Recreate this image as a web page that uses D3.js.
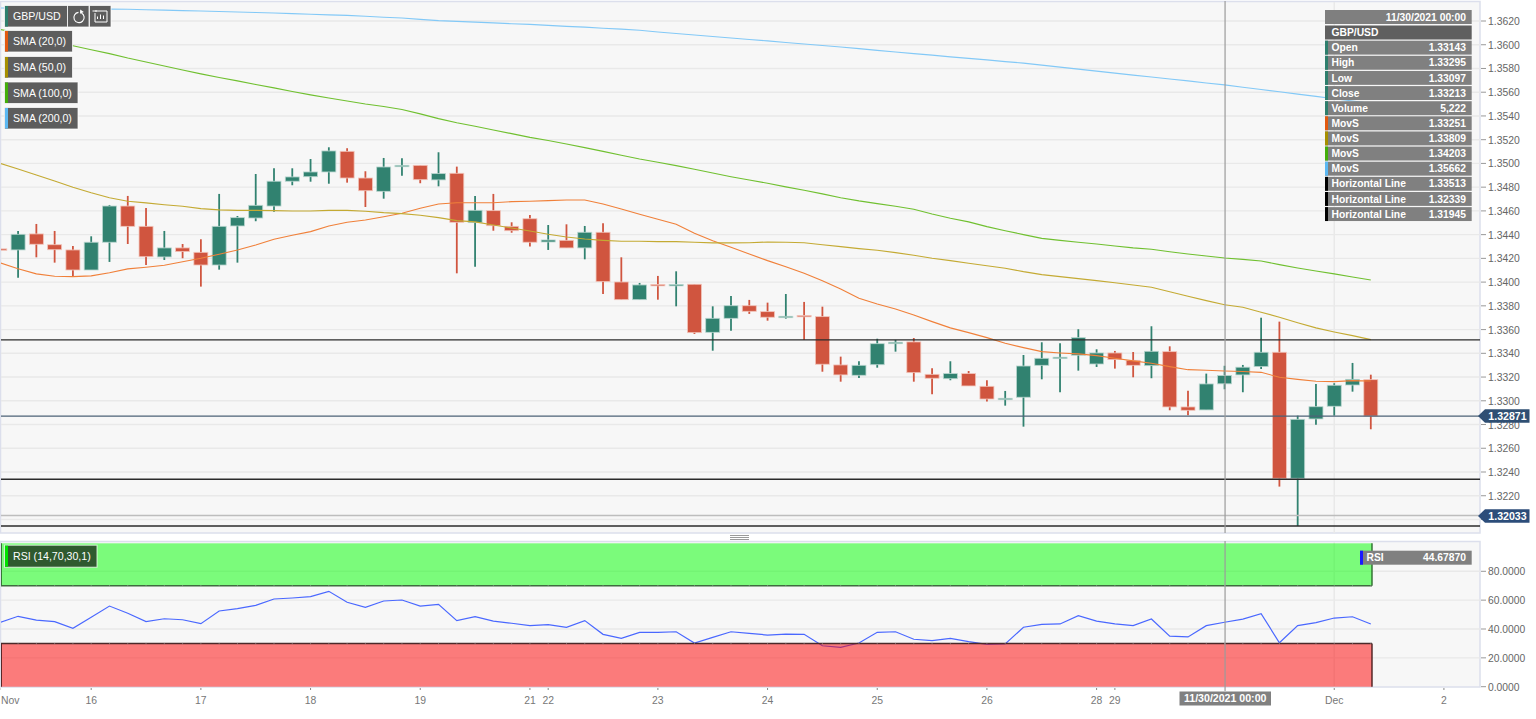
<!DOCTYPE html>
<html><head><meta charset="utf-8">
<script src="https://cdnjs.cloudflare.com/ajax/libs/d3/7.8.5/d3.min.js"></script>
<style>html,body{margin:0;padding:0;background:#fff;overflow:hidden}svg{display:block}text{font-family:"Liberation Sans",Arial,sans-serif}</style>
</head><body><svg id="c" width="1536" height="719"></svg>
<script>
const opens=[1.34280,1.34271,1.34406,1.34315,1.34271,1.34102,1.34336,1.34641,1.34470,1.34212,1.34288,1.34251,1.34144,1.34473,1.34540,1.34641,1.34850,1.34888,1.34928,1.35102,1.34877,1.34765,1.34976,1.34984,1.34861,1.34917,1.34501,1.34602,1.34470,1.34534,1.34338,1.34352,1.34288,1.34420,1.34001,1.33852,1.33980,1.33972,1.33982,1.33577,1.33695,1.33801,1.33751,1.33704,1.33719,1.33709,1.33302,1.33215,1.33304,1.33485,1.33496,1.33223,1.33186,1.33229,1.33122,1.33015,1.33030,1.33299,1.33361,1.33384,1.33310,1.33403,1.33341,1.33296,1.33414,1.32948,1.32923,1.33143,1.33218,1.33288,1.33409,1.32347,1.32847,1.32954,1.33133,1.33178];
const highs=[1.34397,1.34431,1.34490,1.34431,1.34304,1.34386,1.34650,1.34726,1.34625,1.34431,1.34321,1.34361,1.34743,1.34557,1.34911,1.34959,1.34959,1.35037,1.35136,1.35128,1.34934,1.35046,1.35043,1.34984,1.35094,1.34973,1.34726,1.34743,1.34504,1.34566,1.34481,1.34487,1.34473,1.34496,1.34209,1.33993,1.34052,1.34091,1.33982,1.33796,1.33883,1.33850,1.33827,1.33900,1.33833,1.33793,1.33372,1.33333,1.33523,1.33513,1.33529,1.33274,1.33333,1.33251,1.33173,1.33083,1.33386,1.33493,1.33485,1.33603,1.33434,1.33420,1.33411,1.33628,1.33459,1.33085,1.33229,1.33295,1.33302,1.33700,1.33667,1.32875,1.33142,1.33148,1.33319,1.33220];
const lows=[1.34229,1.34037,1.34209,1.34164,1.34046,1.34102,1.34170,1.34321,1.34144,1.34186,1.34201,1.33962,1.34105,1.34164,1.34513,1.34593,1.34816,1.34846,1.34829,1.34838,1.34633,1.34703,1.34897,1.34833,1.34807,1.34074,1.34130,1.34433,1.34416,1.34299,1.34271,1.34288,1.34192,1.33900,1.33852,1.33852,1.33852,1.33796,1.33563,1.33422,1.33590,1.33732,1.33675,1.33692,1.33513,1.33245,1.33161,1.33192,1.33279,1.33414,1.33161,1.33055,1.33173,1.33125,1.32993,1.32959,1.32782,1.33181,1.33072,1.33254,1.33285,1.33271,1.33198,1.33190,1.32920,1.32878,1.32923,1.33097,1.33072,1.33268,1.32277,1.31945,1.32799,1.32875,1.33077,1.32760];
const closes=[1.34275,1.34403,1.34319,1.34273,1.34102,1.34336,1.34641,1.34470,1.34214,1.34288,1.34257,1.34144,1.34470,1.34543,1.34647,1.34850,1.34886,1.34928,1.35105,1.34877,1.34770,1.34970,1.34984,1.34863,1.34914,1.34504,1.34605,1.34475,1.34433,1.34336,1.34355,1.34288,1.34420,1.34004,1.33852,1.33976,1.33972,1.33980,1.33574,1.33695,1.33801,1.33754,1.33704,1.33712,1.33712,1.33308,1.33218,1.33299,1.33481,1.33493,1.33237,1.33190,1.33229,1.33125,1.33015,1.33021,1.33293,1.33358,1.33367,1.33532,1.33403,1.33347,1.33299,1.33417,1.32948,1.32920,1.33142,1.33213,1.33283,1.33409,1.32347,1.32844,1.32950,1.33131,1.33181,1.32871];
const sma20=[1.34164,1.34113,1.34069,1.34049,1.34046,1.34052,1.34079,1.34111,1.34125,1.34142,1.34172,1.34201,1.34235,1.34271,1.34313,1.34361,1.34395,1.34425,1.34473,1.34504,1.34523,1.34551,1.34580,1.34622,1.34658,1.34669,1.34669,1.34669,1.34678,1.34681,1.34686,1.34692,1.34692,1.34658,1.34616,1.34572,1.34529,1.34487,1.34411,1.34349,1.34293,1.34237,1.34181,1.34130,1.34074,1.34012,1.33942,1.33864,1.33816,1.33774,1.33723,1.33667,1.33614,1.33574,1.33532,1.33485,1.33448,1.33414,1.33403,1.33395,1.33380,1.33358,1.33336,1.33316,1.33288,1.33262,1.33257,1.33251,1.33247,1.33240,1.33198,1.33181,1.33165,1.33161,1.33170,1.33167];
const sma50=[1.35001,1.34953,1.34903,1.34852,1.34799,1.34753,1.34711,1.34681,1.34667,1.34652,1.34639,1.34619,1.34608,1.34605,1.34605,1.34602,1.34599,1.34599,1.34605,1.34605,1.34597,1.34585,1.34577,1.34563,1.34543,1.34518,1.34507,1.34481,1.34456,1.34431,1.34403,1.34380,1.34363,1.34352,1.34344,1.34344,1.34341,1.34341,1.34336,1.34330,1.34330,1.34332,1.34338,1.34336,1.34332,1.34315,1.34299,1.34282,1.34268,1.34248,1.34226,1.34201,1.34181,1.34159,1.34138,1.34117,1.34088,1.34063,1.34046,1.34029,1.34012,1.33995,1.33976,1.33957,1.33919,1.33881,1.33844,1.33809,1.33788,1.33746,1.33704,1.33658,1.33614,1.33580,1.33549,1.33515];
const sma100=[1.36130,1.36099,1.36065,1.36027,1.35992,1.35958,1.35925,1.35888,1.35855,1.35821,1.35787,1.35754,1.35724,1.35695,1.35665,1.35636,1.35606,1.35577,1.35551,1.35526,1.35501,1.35480,1.35454,1.35417,1.35377,1.35343,1.35313,1.35282,1.35251,1.35219,1.35193,1.35164,1.35133,1.35102,1.35069,1.35037,1.35010,1.34981,1.34951,1.34919,1.34888,1.34860,1.34833,1.34802,1.34774,1.34743,1.34711,1.34684,1.34661,1.34639,1.34614,1.34574,1.34538,1.34507,1.34467,1.34433,1.34400,1.34369,1.34352,1.34336,1.34321,1.34304,1.34288,1.34277,1.34256,1.34237,1.34220,1.34203,1.34192,1.34178,1.34147,1.34119,1.34094,1.34069,1.34043,1.34018];
const sma200=[1.36310,1.36308,1.36307,1.36305,1.36304,1.36302,1.36300,1.36299,1.36295,1.36292,1.36288,1.36284,1.36280,1.36276,1.36272,1.36267,1.36262,1.36257,1.36252,1.36247,1.36240,1.36232,1.36225,1.36214,1.36203,1.36197,1.36191,1.36184,1.36177,1.36171,1.36163,1.36155,1.36148,1.36139,1.36131,1.36122,1.36107,1.36095,1.36082,1.36069,1.36057,1.36044,1.36032,1.36019,1.36006,1.35994,1.35981,1.35967,1.35953,1.35939,1.35925,1.35912,1.35898,1.35885,1.35872,1.35858,1.35845,1.35828,1.35811,1.35794,1.35778,1.35761,1.35744,1.35728,1.35711,1.35695,1.35678,1.35662,1.35642,1.35623,1.35604,1.35584,1.35565,1.35545,1.35526,1.35507];
const rsi=[44.4,48.8,46.2,45.1,40.5,48.1,55.9,50.9,45.1,47.1,46.4,43.7,52.5,54.1,56.4,60.8,61.5,62.4,66.1,58.5,55.0,59.4,60.1,55.9,57.1,45.8,48.5,45.5,44.0,42.3,43.0,41.2,45.8,36.3,33.5,37.7,37.7,38.1,30.3,34.2,38.1,37.0,35.8,36.5,36.3,28.4,27.3,30.3,37.7,38.1,32.9,31.9,33.5,31.2,29.4,29.6,41.2,43.2,43.5,49.2,45.5,43.5,42.3,46.9,35.1,34.5,42.3,44.68,46.9,50.6,30.5,42.3,44.4,47.6,48.5,43.5];
const priceTicks=[1.3620,1.3600,1.3580,1.3560,1.3540,1.3520,1.3500,1.3480,1.3460,1.3440,1.3420,1.3400,1.3380,1.3360,1.3340,1.3320,1.3300,1.3280,1.3260,1.3240,1.3220,1.3200];
const rsiTicks=[80,60,40,20,0];
const dayLabels=["Nov","16","17","18","19","21","22","23","24","25","26","28","29","Dec","2"];
const dayIndex=[0,5,11,17,23,29,30,36,42,48,54,60,61,73,79];
const horizontalLevels=[1.33513,1.32339,1.31945];
const legendLabels=["SMA (20,0)","SMA (50,0)","SMA (100,0)","SMA (200,0)"];
const legendColors=["#e2590f","#a68f00","#43ae0a","#5cb8f2"];
const lineColors=["#f0803a","#c4aa33","#70c030","#83c9f7"];
const infoLabels=["Open","High","Low","Close","Volume","MovS","MovS","MovS","MovS","Horizontal Line","Horizontal Line","Horizontal Line"];
const infoValues=["1.33143","1.33295","1.33097","1.33213","5,222","1.33251","1.33809","1.34203","1.35662","1.33513","1.32339","1.31945"];
const infoColors=["#2e7f6d","#2e7f6d","#2e7f6d","#2e7f6d","#2e7f6d","#e2590f","#a68f00","#43ae0a","#5cb8f2","#000","#000","#000"];
const lastClose=1.32871, lowMarker=1.32033, crossIndex=67;

const svg=d3.select("#c");
const L=1,R=1480;
const x=d3.scaleLinear().domain([0,75]).range([-0.2,1370.8]);
const y=d3.scaleLinear().domain([1.3620,1.3240]).range([21,472]);
const yr=d3.scaleLinear().domain([0,80]).range([686.7,571.3]);
const gridC="#e9e9e9", RED="#d0553f", GREEN="#318270";
const n=closes.length, idx=d3.range(n);

const defs=svg.append("defs");
defs.append("clipPath").attr("id","cp").append("rect").attr("x",L).attr("y",2).attr("width",R-L).attr("height",531);
defs.append("clipPath").attr("id","cr").append("rect").attr("x",L).attr("y",542).attr("width",R-L).attr("height",145);

[[2,533],[542,687]].forEach(([t,b])=>{
  svg.append("rect").attr("x",0.5).attr("y",t-0.5).attr("width",R-0.5).attr("height",b-t+0.5).attr("fill","#f7f7f7").attr("stroke","#dcdfec").attr("stroke-width",1.5);
});

const gP=svg.append("g").attr("clip-path","url(#cp)");
gP.selectAll(".g").data(priceTicks).join("line").attr("x1",L).attr("x2",R).attr("y1",d=>y(d)).attr("y2",d=>y(d)).attr("stroke",gridC).attr("stroke-width",1.4);
gP.append("line").attr("x1",x(73)).attr("x2",x(73)).attr("y1",2).attr("y2",533).attr("stroke",gridC).attr("stroke-width",1.6);

const gC=gP.append("g");
gC.selectAll(".w").data(idx).join("line").attr("x1",i=>x(i)).attr("x2",i=>x(i)).attr("y1",i=>y(highs[i])).attr("y2",i=>y(lows[i]))
  .attr("stroke",i=>closes[i]>=opens[i]?GREEN:RED).attr("stroke-width",1.8);
gC.selectAll(".b").data(idx).join("rect")
  .attr("x",i=>x(i)-7).attr("width",14)
  .attr("y",i=>Math.min(y(opens[i]),y(closes[i])))
  .attr("height",i=>Math.max(1.4,Math.abs(y(opens[i])-y(closes[i]))))
  .attr("fill",i=>closes[i]>=opens[i]?GREEN:RED)
  .attr("stroke",i=>closes[i]>=opens[i]?"#b9d6cf":"#f2c5bb").attr("stroke-width",0.8);

const ln=d3.line().x((d,i)=>x(i)).y(d=>y(d));
[sma20,sma50,sma100,sma200].forEach((s,k)=>{
  gP.append("path").attr("d",ln(s)).attr("fill","none").attr("stroke",lineColors[k]).attr("stroke-width",1.15);
});

gP.selectAll(".h").data(horizontalLevels).join("line").attr("x1",L).attr("x2",R).attr("y1",d=>y(d)).attr("y2",d=>y(d)).attr("stroke","#2b2b2b").attr("stroke-width",1.3);
gP.append("line").attr("x1",L).attr("x2",R).attr("y1",y(lastClose)).attr("y2",y(lastClose)).attr("stroke","#4d6277").attr("stroke-width",1.2);
gP.append("line").attr("x1",L).attr("x2",R).attr("y1",y(lowMarker)).attr("y2",y(lowMarker)).attr("stroke","#bdbdbd").attr("stroke-width",1.6);

const gA=svg.append("g");
const labelledTicks=priceTicks.filter(d=>Math.abs(y(d)-y(lowMarker))>8);
gA.selectAll(".t").data(priceTicks).join("line").attr("x1",R+1).attr("x2",R+6).attr("y1",d=>y(d)).attr("y2",d=>y(d)).attr("stroke","#999");
gA.selectAll(".l").data(labelledTicks).join("text").attr("x",R+8).attr("y",d=>y(d)+4).attr("font-size",10.4).attr("fill","#666").text(d=>d.toFixed(4));

const gR=svg.append("g").attr("clip-path","url(#cr)");
gR.selectAll(".g").data(rsiTicks.slice(0,4)).join("line").attr("x1",L).attr("x2",R).attr("y1",d=>yr(d)).attr("y2",d=>yr(d)).attr("stroke",gridC).attr("stroke-width",1.4);
gR.append("line").attr("x1",x(73)).attr("x2",x(73)).attr("y1",542).attr("y2",687).attr("stroke",gridC).attr("stroke-width",1.6);
gR.append("path").attr("d",d3.line().x((d,i)=>x(i)).y(d=>yr(d))(rsi)).attr("fill","none").attr("stroke","#4a68ff").attr("stroke-width",1.2);
const bandR=x(75)+1.2;
gR.append("rect").attr("x",0).attr("width",bandR).attr("y",yr(99.4)).attr("height",yr(70)-yr(99.4)).attr("fill","rgba(0,255,0,0.5)");
gR.append("rect").attr("x",0).attr("width",bandR).attr("y",yr(30)).attr("height",yr(0)-yr(30)).attr("fill","rgba(255,0,0,0.5)");
const bandPath=(t,b,c)=>gR.append("path").attr("d",`M1.2,${t}V${b}M${bandR},${t}V${b}`).attr("stroke",c).attr("stroke-width",1.4).attr("fill","none");
bandPath(yr(99.4),yr(70),"#2d6b2d"); bandPath(yr(30),yr(0),"#4a1f1f");
[70,30].forEach(v=>{
  gR.append("line").attr("x1",0).attr("x2",bandR).attr("y1",yr(v)).attr("y2",yr(v)).attr("stroke",v==70?"#3f6b3f":"#4a2a2a").attr("stroke-width",1.5);
  gR.selectAll(null).data(idx).join("line").attr("x1",i=>x(i)).attr("x2",i=>x(i)).attr("y1",yr(v)-0.8).attr("y2",yr(v)+0.8).attr("stroke","#b5b5b5").attr("stroke-opacity",.45).attr("stroke-width",1);
});
gA.selectAll(".t2").data(rsiTicks).join("line").attr("x1",R+1).attr("x2",R+6).attr("y1",d=>yr(d)).attr("y2",d=>yr(d)).attr("stroke","#999");
gA.selectAll(".l2").data(rsiTicks).join("text").attr("x",R+8).attr("y",d=>yr(d)+4).attr("font-size",10.3).attr("fill","#666").text(d=>d.toFixed(4));

gA.selectAll(".xt").data(dayIndex).join("line").attr("x1",d=>x(d)).attr("x2",d=>x(d)).attr("y1",688).attr("y2",690).attr("stroke","#888");
gA.selectAll(".xl").data(dayLabels).join("text").attr("x",(d,i)=>i==0?1:x(dayIndex[i])).attr("y",704).attr("text-anchor",(d,i)=>i==0?"start":"middle").attr("font-size",10.4).attr("fill","#777").text(d=>d);

[535.5,537.5,539.5].forEach(v=>svg.append("line").attr("x1",730).attr("x2",749).attr("y1",v).attr("y2",v).attr("stroke","#9a9a9a").attr("stroke-width",1));

svg.append("line").attr("x1",x(crossIndex)+.5).attr("x2",x(crossIndex)+.5).attr("y1",1).attr("y2",533).attr("stroke","#9b9b9b").attr("stroke-width",1.2);
svg.append("line").attr("x1",x(crossIndex)+.5).attr("x2",x(crossIndex)+.5).attr("y1",541).attr("y2",691).attr("stroke","#9b9b9b").attr("stroke-width",1.2);
svg.append("rect").attr("x",1179.5).attr("y",691.5).attr("width",91.5).attr("height",14).attr("fill","#808080");
svg.append("text").attr("x",1225.2).attr("y",702.3).attr("text-anchor","middle").attr("font-size",10.6).attr("font-weight","bold").attr("fill","#fff").text("11/30/2021 00:00");

function btn(px,py,w,h,bar,txt,bg){
  const g=svg.append("g");
  g.append("rect").attr("x",px-.5).attr("y",py-.5).attr("width",w+1).attr("height",h+1).attr("fill",bg||"#5d5d5d").attr("stroke","#ffffff").attr("stroke-opacity",.75).attr("stroke-width",1);
  if(bar) g.append("rect").attr("x",px).attr("y",py).attr("width",3).attr("height",h).attr("fill",bar);
  if(txt) g.append("text").attr("x",px+8).attr("y",py+h/2+3.8).attr("font-size",10.6).attr("fill","#fff").text(txt);
  return g;
}
btn(5,6,62,20.5,"#2e7f6d","GBP/USD");
btn(68,6,20.5,20.5);
btn(90,6,20.5,20.5);
legendLabels.forEach((t,i)=>btn(5,[31,57,82.5,108][i],i<2?67:72.5,20.5,legendColors[i],t));
btn(5,545.7,91.5,21,"#00e000","RSI (14,70,30,1)","#2f5a2f");

const arc=d3.arc().innerRadius(4.6).outerRadius(5.7).startAngle(0.5).endAngle(Math.PI*2-0.1);
svg.append("path").attr("d",arc()).attr("transform","translate(79,17.5)").attr("fill","#fff");
svg.append("path").attr("d","M80.2,9.5l3.6,2.6l-3.8,1.7z").attr("fill","#fff");
svg.append("path").attr("d","M95,11H107V22H95V13M92.5,11H97M97.5,19V16.5M100.5,19V14.5M103.5,19V15.5").attr("fill","none").attr("stroke","#fff").attr("stroke-width",1);

const IX=1325,IW=146.7;
svg.append("rect").attr("x",IX).attr("y",10).attr("width",IW).attr("height",14).attr("fill","#7f7f7f");
svg.append("text").attr("x",IX+141).attr("y",21).attr("text-anchor","end").attr("font-size",10.3).attr("font-weight","bold").attr("fill","#fff").text("11/30/2021 00:00");
svg.append("rect").attr("x",IX).attr("y",25.5).attr("width",IW).attr("height",14).attr("fill","#5f5f5f");
svg.append("text").attr("x",IX+6.5).attr("y",36.3).attr("font-size",10.3).attr("font-weight","bold").attr("fill","#fff").text("GBP/USD");
infoLabels.forEach((t,i)=>{
  const ty=40.7+i*15.13;
  svg.append("rect").attr("x",IX).attr("y",ty).attr("width",IW).attr("height",13.9).attr("fill","#808080");
  svg.append("rect").attr("x",IX).attr("y",ty).attr("width",3).attr("height",13.9).attr("fill",infoColors[i]);
  svg.append("text").attr("x",IX+6.5).attr("y",ty+10.6).attr("font-size",10.3).attr("font-weight","bold").attr("fill","#fff").text(t);
  svg.append("text").attr("x",IX+141).attr("y",ty+10.6).attr("text-anchor","end").attr("font-size",10.3).attr("font-weight","bold").attr("fill","#fff").text(infoValues[i]);
});
svg.append("rect").attr("x",1360).attr("y",550.7).attr("width",111.7).attr("height",14).attr("fill","#808080");
svg.append("rect").attr("x",1360).attr("y",550.7).attr("width",3).attr("height",14).attr("fill","#1a1aff");
svg.append("text").attr("x",1366.5).attr("y",561.3).attr("font-size",10.3).attr("font-weight","bold").attr("fill","#fff").text("RSI");
svg.append("text").attr("x",1466).attr("y",561.3).attr("text-anchor","end").attr("font-size",10.3).attr("font-weight","bold").attr("fill","#fff").text("44.67870");

[[lastClose,"#2f4f73"],[lowMarker,"#2c4d7a"]].forEach(([v,c])=>{
  const cy=Math.round(y(v));
  svg.append("path").attr("d",`M1478,${cy}L1485,${cy-6.7}H1529.5V${cy+6.7}H1485Z`).attr("fill",c);
  svg.append("text").attr("x",1507.5).attr("y",cy+3.8).attr("text-anchor","middle").attr("font-size",10.6).attr("font-weight","bold").attr("fill","#fff").text(v.toFixed(5));
});
</script></body></html>
